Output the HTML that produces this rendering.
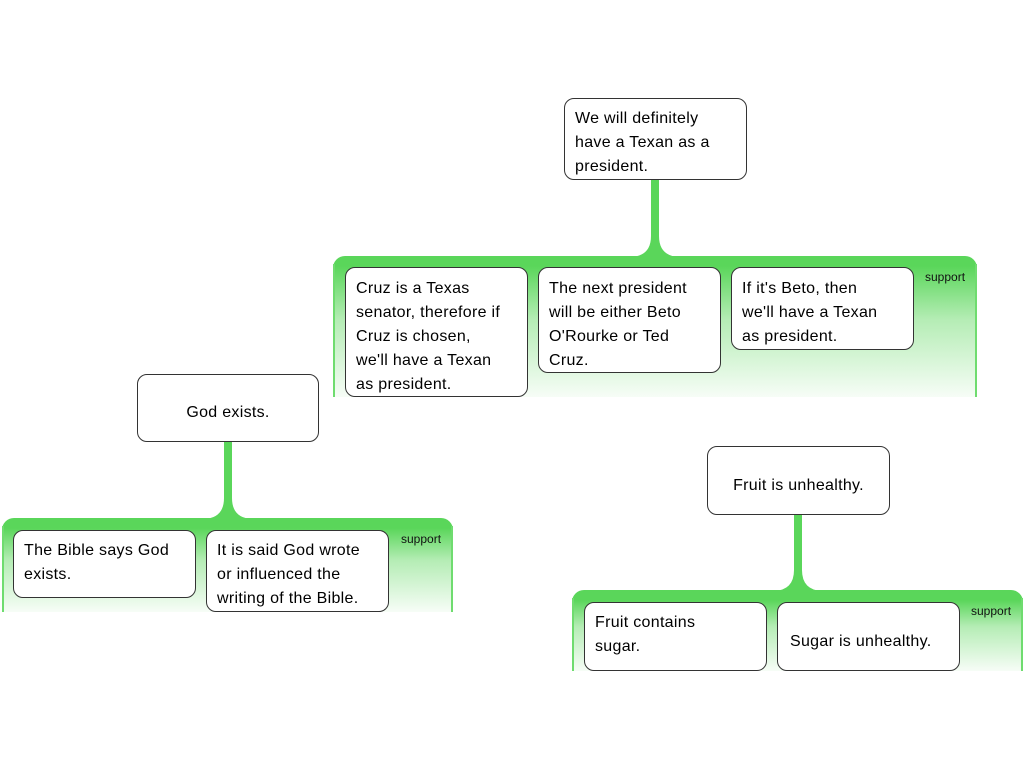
<!DOCTYPE html>
<html><head><style>
body{margin:0;width:1024px;height:768px;background:#fff;position:relative;overflow:hidden;font-family:"Liberation Sans",sans-serif}
.g{position:absolute;border-radius:12px 12px 0 0;background:linear-gradient(#5ad65a 0px,#5ad65a 10px,rgba(90,214,90,0.45) 45%,rgba(90,214,90,0.05) 100%);}
.g:before,.g:after{content:"";position:absolute;top:8px;bottom:0;width:2px;background:#6fdc6f}
.g:before{left:0}.g:after{right:0}
.b{position:absolute;box-sizing:border-box;background:#fff;border:1px solid #333;border-radius:10px;font-size:16px;line-height:24px;padding:7px 10px;color:#000;white-space:nowrap;letter-spacing:0.3px}
.s{position:absolute;font-size:12px;color:#111}
svg{position:absolute;left:0;top:0}
</style></head><body>
<div class="g" style="left:333px;top:256px;width:644px;height:141px"></div>
<div class="g" style="left:2px;top:518px;width:451px;height:94px"></div>
<div class="g" style="left:572px;top:590px;width:451px;height:81px"></div>
<svg width="1024" height="768">
<path d="M651,178 L651,236 Q651,256 631,257 L679,257 Q659,256 659,236 L659,178 Z" fill="#5ad65a"/>
<path d="M224,440 L224,498 Q224,518 204,519 L252,519 Q232,518 232,498 L232,440 Z" fill="#5ad65a"/>
<path d="M794,513 L794,570 Q794,590 774,591 L822,591 Q802,590 802,570 L802,513 Z" fill="#5ad65a"/>
</svg>
<div class="b" style="left:564px;top:98px;width:183px;height:82px;padding-top:8px">We will definitely<br>have a Texan as a<br>president.</div>
<div class="b" style="left:345px;top:267px;width:183px;height:130px;padding-top:9px">Cruz is a Texas<br>senator, therefore if<br>Cruz is chosen,<br>we'll have a Texan<br>as president.</div>
<div class="b" style="left:538px;top:267px;width:183px;height:106px;padding-top:9px">The next president<br>will be either Beto<br>O'Rourke or Ted<br>Cruz.</div>
<div class="b" style="left:731px;top:267px;width:183px;height:83px;padding-top:9px">If it's Beto, then<br>we'll have a Texan<br>as president.</div>
<div class="s" style="left:925px;top:270px">support</div>
<div class="b" style="left:137px;top:374px;width:182px;height:68px;text-align:center;padding-top:26px">God exists.</div>
<div class="b" style="left:13px;top:530px;width:183px;height:68px;padding-top:8px">The Bible says God<br>exists.</div>
<div class="b" style="left:206px;top:530px;width:183px;height:82px;padding-top:8px">It is said God wrote<br>or influenced the<br>writing of the Bible.</div>
<div class="s" style="left:401px;top:532px">support</div>
<div class="b" style="left:707px;top:446px;width:183px;height:69px;text-align:center;padding-top:27px">Fruit is unhealthy.</div>
<div class="b" style="left:584px;top:602px;width:183px;height:69px;padding-top:8px">Fruit contains<br>sugar.</div>
<div class="b" style="left:777px;top:602px;width:183px;height:69px;padding-top:27px;padding-left:12px">Sugar is unhealthy.</div>
<div class="s" style="left:971px;top:604px">support</div>
</body></html>
